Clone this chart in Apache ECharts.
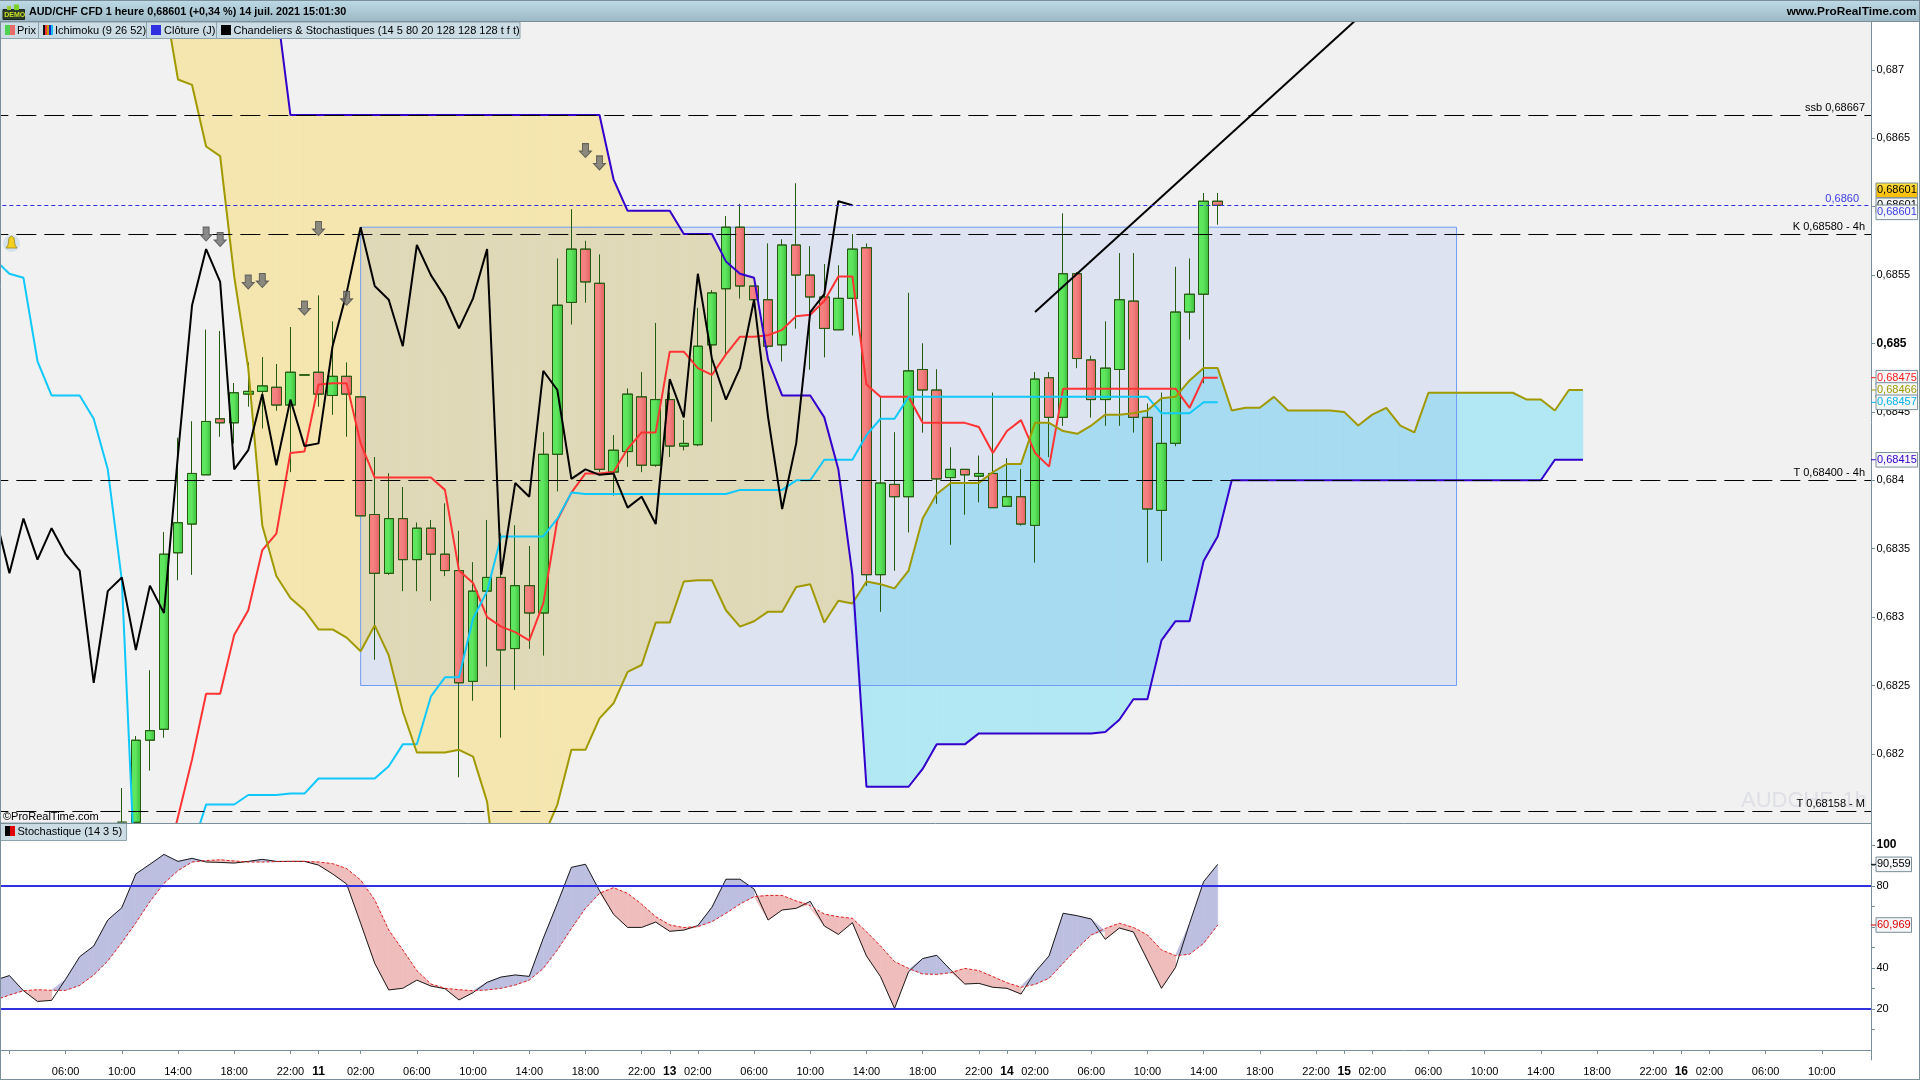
<!DOCTYPE html>
<html><head><meta charset="utf-8">
<style>html,body{margin:0;padding:0;background:#fff}#c{width:1920px;height:1080px}</style>
<script src="https://cdn.jsdelivr.net/npm/echarts@6/dist/echarts.min.js"></script>
</head><body><div id="c"></div>
<script>
const tickIndex=[1,5,9,13,17,21,23,26,30,34,38,42,46,48,50,54,58,62,66,70,72,74,78,82,86,90,94,96,98,102,106,110,114,118,120,122,126,130];
const tickText=['02:00','06:00','10:00','14:00','18:00','22:00','11','02:00','06:00','10:00','14:00','18:00','22:00','13','02:00','06:00','10:00','14:00','18:00','22:00','14','02:00','06:00','10:00','14:00','18:00','22:00','15','02:00','06:00','10:00','14:00','18:00','22:00','16','02:00','06:00','10:00'];
const barCount=134;
const priceTicks=[0.682,0.6825,0.683,0.6835,0.684,0.6845,0.685,0.6855,0.686,0.6865,0.687];
const priceLabels=[0.682,0.6825,0.683,0.6835,0.684,0.6845,0.685,0.6855,0.6865,0.687];
const stochTicks=[10,20,30,40,50,60,70,80,90,100];
const stochLabels=[20,40,60,80,100];
const opens=[null,null,null,null,null,null,null,null,null,0.68150,0.68150,0.68210,0.68218,0.68347,0.68368,0.68404,0.68445,0.68442,0.68463,0.68465,0.68468,0.68455,0.68477,0.68479,0.68462,0.68476,0.68461,0.68375,0.68332,0.68372,0.68342,0.68365,0.68346,0.68334,0.68253,0.68319,0.68329,0.68277,0.68323,0.68303,0.68419,0.68530,0.68569,0.68544,0.68406,0.68421,0.68461,0.68411,0.68459,0.68425,0.68426,0.68499,0.68540,0.68585,0.68542,0.68532,0.68499,0.68572,0.68550,0.68534,0.68510,0.68533,0.68570,0.68331,0.68397,0.68388,0.68481,0.68466,0.68402,0.68408,0.68403,0.68405,0.68381,0.68388,0.68367,0.68475,0.68446,0.68551,0.68488,0.68459,0.68481,0.68531,0.68446,0.68378,0.68427,0.68523,0.68536,0.68604];
const closes=[null,null,null,null,null,null,null,null,null,0.68150,0.68210,0.68217,0.68346,0.68369,0.68405,0.68443,0.68442,0.68464,0.68465,0.68469,0.68455,0.68479,0.68477,0.68463,0.68476,0.68463,0.68374,0.68332,0.68372,0.68342,0.68365,0.68346,0.68334,0.68252,0.68319,0.68329,0.68276,0.68323,0.68303,0.68419,0.68528,0.68569,0.68545,0.68408,0.68422,0.68463,0.68411,0.68459,0.68425,0.68427,0.68498,0.68537,0.68585,0.68542,0.68532,0.68498,0.68572,0.68550,0.68534,0.68511,0.68533,0.68569,0.68331,0.68398,0.68388,0.68480,0.68466,0.68401,0.68408,0.68404,0.68405,0.68380,0.68388,0.68368,0.68474,0.68446,0.68551,0.68489,0.68459,0.68482,0.68532,0.68446,0.68379,0.68427,0.68523,0.68536,0.68604,0.68601];
const lows=[null,null,null,null,null,null,null,null,null,0.68150,0.68150,0.68188,0.68212,0.68327,0.68331,0.68404,0.68432,0.68427,0.68454,0.68438,0.68451,0.68406,0.68477,0.68454,0.68448,0.68432,0.68374,0.68269,0.68331,0.68319,0.68319,0.68312,0.68330,0.68183,0.68239,0.68264,0.68212,0.68247,0.68277,0.68272,0.68392,0.68514,0.68530,0.68406,0.68389,0.68410,0.68406,0.68410,0.68417,0.68422,0.68425,0.68443,0.68492,0.68533,0.68527,0.68497,0.68487,0.68511,0.68481,0.68490,0.68510,0.68506,0.68323,0.68304,0.68334,0.68362,0.68435,0.68383,0.68353,0.68375,0.68384,0.68380,0.68381,0.68367,0.68340,0.68417,0.68440,0.68482,0.68446,0.68440,0.68440,0.68435,0.68340,0.68341,0.68425,0.68503,0.68471,0.68587];
const highs=[null,null,null,null,null,null,null,null,null,0.68175,0.68213,0.68261,0.68362,0.68431,0.68443,0.68510,0.68509,0.68471,0.68486,0.68490,0.68485,0.68512,0.68477,0.68535,0.68516,0.68486,0.68461,0.68417,0.68405,0.68395,0.68369,0.68371,0.68383,0.68363,0.68340,0.68371,0.68361,0.68367,0.68352,0.68435,0.68562,0.68598,0.68575,0.68565,0.68433,0.68467,0.68479,0.68515,0.68464,0.68444,0.68526,0.68539,0.68593,0.68602,0.68542,0.68573,0.68576,0.68617,0.68571,0.68558,0.68557,0.68580,0.68573,0.68461,0.68435,0.68537,0.68500,0.68481,0.68424,0.68408,0.68418,0.68464,0.68416,0.68408,0.68479,0.68479,0.68595,0.68552,0.68491,0.68516,0.68566,0.68566,0.68456,0.68464,0.68556,0.68562,0.68610,0.68610];
const tenkan=[null,null,null,null,null,null,null,null,null,null,null,null,0.68113,0.68154,0.68196,0.68244,0.68244,0.68287,0.68305,0.68349,0.68361,0.68420,0.68421,0.68470,0.68471,0.68471,0.68427,0.68402,0.68402,0.68402,0.68402,0.68402,0.68393,0.68334,0.68325,0.68300,0.68293,0.68289,0.68283,0.68310,0.68371,0.68391,0.68405,0.68405,0.68406,0.68423,0.68435,0.68435,0.68494,0.68494,0.68482,0.68477,0.68492,0.68505,0.68505,0.68506,0.68510,0.68520,0.68521,0.68531,0.68549,0.68549,0.68470,0.68461,0.68461,0.68461,0.68442,0.68442,0.68442,0.68442,0.68439,0.68420,0.68436,0.68444,0.68420,0.68410,0.68467,0.68467,0.68467,0.68467,0.68467,0.68467,0.68467,0.68467,0.68467,0.68453,0.68475,0.68475];
const kijun=[0.68561,0.68551,0.68548,0.68487,0.68462,0.68462,0.68462,0.68445,0.68408,0.68327,0.68097,0.68097,0.68097,0.68097,0.68131,0.68163,0.68163,0.68163,0.68170,0.68170,0.68170,0.68171,0.68171,0.68182,0.68182,0.68182,0.68182,0.68182,0.68191,0.68207,0.68207,0.68242,0.68256,0.68256,0.68299,0.68319,0.68359,0.68359,0.68359,0.68359,0.68372,0.68391,0.68390,0.68390,0.68390,0.68390,0.68390,0.68390,0.68390,0.68390,0.68390,0.68390,0.68390,0.68393,0.68393,0.68393,0.68393,0.68400,0.68400,0.68415,0.68415,0.68415,0.68433,0.68445,0.68445,0.68461,0.68461,0.68461,0.68461,0.68461,0.68461,0.68461,0.68461,0.68461,0.68461,0.68461,0.68461,0.68461,0.68461,0.68461,0.68461,0.68461,0.68461,0.68449,0.68449,0.68449,0.68457,0.68457];
const spanA=[null,null,null,null,null,null,null,null,null,null,null,null,0.68753,0.68693,0.68689,0.68644,0.68637,0.68549,0.68482,0.68367,0.68330,0.68314,0.68305,0.68291,0.68291,0.68285,0.68275,0.68294,0.68272,0.68231,0.68201,0.68201,0.68201,0.68203,0.68198,0.68165,0.68079,0.68079,0.68079,0.68139,0.68163,0.68203,0.68203,0.68226,0.68237,0.68260,0.68265,0.68296,0.68296,0.68326,0.68327,0.68327,0.68305,0.68293,0.68297,0.68304,0.68304,0.68322,0.68324,0.68296,0.68312,0.68310,0.68326,0.68324,0.68321,0.68334,0.68372,0.68390,0.68398,0.68398,0.68398,0.68406,0.68412,0.68412,0.68442,0.68442,0.68436,0.68434,0.68440,0.68448,0.68448,0.68449,0.68451,0.68460,0.68461,0.68473,0.68482,0.68482,0.68451,0.68453,0.68453,0.68461,0.68451,0.68451,0.68451,0.68451,0.68450,0.68440,0.68448,0.68453,0.68440,0.68435,0.68464,0.68464,0.68464,0.68464,0.68464,0.68464,0.68464,0.68459,0.68459,0.68451,0.68466,0.68466];
const spanB=[null,null,null,null,null,null,null,null,null,null,null,null,0.68780,0.68780,0.68780,0.68780,0.68780,0.68780,0.68780,0.68780,0.68748,0.68667,0.68667,0.68667,0.68667,0.68667,0.68667,0.68667,0.68667,0.68667,0.68667,0.68667,0.68667,0.68667,0.68667,0.68667,0.68667,0.68667,0.68667,0.68667,0.68667,0.68667,0.68667,0.68667,0.68620,0.68597,0.68597,0.68597,0.68597,0.68580,0.68580,0.68580,0.68560,0.68551,0.68548,0.68488,0.68462,0.68462,0.68462,0.68446,0.68408,0.68331,0.68176,0.68176,0.68176,0.68176,0.68189,0.68207,0.68207,0.68207,0.68215,0.68215,0.68215,0.68215,0.68215,0.68215,0.68215,0.68215,0.68215,0.68216,0.68225,0.68240,0.68240,0.68283,0.68297,0.68297,0.68341,0.68359,0.68400,0.68400,0.68400,0.68400,0.68400,0.68400,0.68400,0.68400,0.68400,0.68400,0.68400,0.68400,0.68400,0.68400,0.68400,0.68400,0.68400,0.68400,0.68400,0.68400,0.68400,0.68400,0.68400,0.68415,0.68415,0.68415];
const chikou=[0.68374,0.68332,0.68372,0.68342,0.68365,0.68346,0.68334,0.68252,0.68319,0.68329,0.68276,0.68323,0.68303,0.68419,0.68528,0.68569,0.68545,0.68408,0.68422,0.68463,0.68411,0.68459,0.68425,0.68427,0.68498,0.68537,0.68585,0.68542,0.68532,0.68498,0.68572,0.68550,0.68534,0.68511,0.68533,0.68569,0.68331,0.68398,0.68388,0.68480,0.68466,0.68401,0.68408,0.68404,0.68405,0.68380,0.68388,0.68368,0.68474,0.68446,0.68551,0.68489,0.68459,0.68482,0.68532,0.68446,0.68379,0.68427,0.68523,0.68536,0.68604,0.68601];
const stochK=[34.1,36.3,28.9,23.7,24.2,34.5,45.5,50.7,63.4,69.4,85.9,90.6,95.4,92,93.5,91.7,91.5,91.2,92,93,92,92,92,90.2,85.9,81,61.8,42.3,29.3,30.1,34.1,31.2,29.9,24.4,28,33,35.6,36.6,35.9,54.5,71.5,89.1,90.6,77.7,66.2,59.8,59.8,62.4,57.9,58.5,60.7,69.6,83.3,83.3,78.5,63.4,68.3,69.1,72.5,60.5,56.4,62.1,45.9,35.8,20.3,38.2,44.6,46.2,39,32.2,32.5,30.6,30.1,27.3,38,45.9,66.7,65.5,63.9,54,59.5,57.6,43.9,30.1,40.3,61.8,82.1,90.56];
const stochD=[24.4,26.8,28.9,29.4,29.1,29.1,31.5,36.6,43.4,52.4,62.1,72.4,81.3,87.5,91.7,92.4,92.8,92.2,91.7,91.7,91.9,92,92,91.7,90.9,88.5,82.9,73.2,58.5,48.8,38.7,32.2,30.1,29.4,28.9,29.3,30.1,31.7,34.1,39.8,48.8,59.3,69.1,76.4,79.2,76.4,71.1,65,61,59.7,60.2,62.6,66.7,71.2,74.8,75.4,75.4,72.7,70.4,66.3,65,64.2,57.7,50.7,43.1,39.8,37.1,36.9,37.7,39.8,38.7,35.8,32.8,30.6,32,35,42.3,49.6,56.1,59.3,61.8,59.8,56.1,48.8,46,46.7,52,60.97];
const arrowBars=[15,16,18,19,22,23,25,42,43];
const arrowPrices=[0.68580,0.68576,0.68545,0.68546,0.68526,0.68584,0.68533,0.68641,0.68632];
const levelValues=[0.68667,0.68580,0.68400,0.68158];
const levelNames=['ssb 0,68667','K 0,68580 - 4h','T 0,68400 - 4h','T 0,68158 - M'];
const lastPrice=0.68601, lastPriceName='0,6860';
const trendBars=[74,97], trendPrices=[0.68523,0.68738];
const boxBars=[26,104], boxPrices=[0.68585,0.6825];
const stochLevels=[80,20];

const FONT='"Liberation Sans",Arial,sans-serif';
const AXC='#7a8f99';
const categories=[];for(let i=0;i<barCount;i++){const k=tickIndex.indexOf(i);categories.push(k<0?'':tickText[k]);}
const candleData=opens.map((o,i)=>o===null?'-':[o,closes[i],lows[i],highs[i]]);
function hgrad(a,b){return {type:'linear',x:0,y:0,x2:1,y2:0,colorStops:[{offset:0,color:a},{offset:.45,color:a},{offset:1,color:b}]};}
function bandSegs(a,b){const s=[];for(let i=0;i<a.length-1;i++){if(a[i]==null||a[i+1]==null||b[i]==null||b[i+1]==null)continue;s.push({i,a0:a[i],b0:b[i],a1:a[i+1],b1:b[i+1]});}return s;}
function bandSeries(segs,xi,yi,upColor,dnColor,z){
  return {type:'custom',xAxisIndex:xi,yAxisIndex:yi,clip:true,silent:true,z,animation:false,
    encode:{x:0,y:1},data:segs.map(s=>[s.i,s.a0]),
    renderItem(p,api){
      const s=segs[p.dataIndex];const out=[];
      const poly=(pts,c)=>out.push({type:'polygon',shape:{points:pts.map(q=>api.coord(q))},style:{fill:c,stroke:c,lineWidth:.6}});
      const d0=s.a0-s.b0,d1=s.a1-s.b1;
      if(d0*d1<0){const t=d0/(d0-d1);const xc=s.i+t,yc=s.a0+(s.a1-s.a0)*t;
        poly([[s.i,s.a0],[xc,yc],[s.i,s.b0]],d0>0?upColor:dnColor);
        poly([[xc,yc],[s.i+1,s.a1],[s.i+1,s.b1]],d1>0?upColor:dnColor);
      }else poly([[s.i,s.a0],[s.i+1,s.a1],[s.i+1,s.b1],[s.i,s.b0]],(d0+d1)>0?upColor:dnColor);
      return {type:'group',children:out};
    }};
}
function lineS(name,data,color,w,z,extra){return Object.assign({name,type:'line',data,xAxisIndex:0,yAxisIndex:0,symbol:'none',showSymbol:false,clip:true,z,animation:false,silent:true,lineStyle:{color,width:w},connectNulls:false},extra||{});}

const chart=echarts.init(document.getElementById('c'),null,{renderer:'canvas'});
const levelLines=levelValues.map((v,k)=>({yAxis:v,lineStyle:{color:'#000',width:1,type:[20,8]},
  label:{show:true,position:'insideEndTop',formatter:levelNames[k],color:'#000',fontFamily:FONT,fontSize:11,distance:[6,2]}}));
levelLines.push({yAxis:lastPrice,lineStyle:{color:'#3030e0',width:1,type:[4,3]},
  label:{show:true,position:'insideEndTop',formatter:lastPriceName,color:'#3a3ae8',fontFamily:FONT,fontSize:11,distance:[12,1]}});

chart.setOption({
 animation:false,backgroundColor:'#fff',
 grid:[{left:-11.66,top:22,width:1882.66,height:801,show:true,backgroundColor:'#f1f1f1',borderWidth:0,outerBoundsMode:'none'},
       {left:-11.66,top:823,width:1882.66,height:237,show:true,backgroundColor:'#fff',borderWidth:0,outerBoundsMode:'none'}],
 xAxis:[{type:'category',gridIndex:0,data:categories,boundaryGap:true,axisLine:{show:false},axisTick:{show:false},axisLabel:{show:false},splitLine:{show:false}},
        {type:'category',gridIndex:1,data:categories,boundaryGap:true,
         axisLine:{show:true,lineStyle:{color:AXC,width:1}},
         axisTick:{show:true,length:4,alignWithLabel:true,interval:(i,v)=>v!=='',lineStyle:{color:AXC}},
         axisLabel:{show:true,margin:6,interval:(i,v)=>v!==''&&i!==1,color:'#000',fontFamily:FONT,fontSize:11,
           formatter:v=>/^\d\d$/.test(v)?'{b|'+v+'}':v,rich:{b:{fontWeight:'bold',fontSize:12,fontFamily:FONT,color:'#000'}}},
         splitLine:{show:false}}],
 yAxis:[{type:'value',gridIndex:0,position:'right',min:0.681495,max:0.68735,
         axisLine:{show:true,lineStyle:{color:AXC,width:1}},splitLine:{show:false},
         axisTick:{show:true,length:4,customValues:priceTicks,lineStyle:{color:AXC}},
         axisLabel:{show:true,margin:5.5,align:'left',customValues:priceLabels,color:'#000',fontFamily:FONT,fontSize:11,
           formatter:v=>{const t=String(v).replace('.',',');return v===0.685?'{b|'+t+'}':t;},rich:{b:{fontWeight:'bold',fontSize:12,fontFamily:FONT,color:'#000'}}}},
        {type:'value',gridIndex:1,position:'right',min:-4.88,max:110.73,
         axisLine:{show:true,lineStyle:{color:AXC,width:1}},splitLine:{show:false},
         axisTick:{show:true,length:4,customValues:stochTicks,lineStyle:{color:AXC}},
         axisLabel:{show:true,margin:5.5,align:'left',customValues:stochLabels,color:'#000',fontFamily:FONT,fontSize:11,
           formatter:v=>v===100?'{b|100}':String(v),rich:{b:{fontWeight:'bold',fontSize:12,fontFamily:FONT,color:'#000'}}}}],
 series:[
  bandSeries(bandSegs(spanA,spanB),0,0,'#b2e8f4','#f5e6b0',0),
  lineS('Kumo box',[],'#6699ff',1,1,{markArea:{silent:true,z:1,itemStyle:{color:'rgba(108,148,234,0.15)',borderColor:'#6f9cf5',borderWidth:1},
     data:[[{coord:[boxBars[0],boxPrices[0]]},{coord:[boxBars[1],boxPrices[1]]}]]}}),
  {name:'Prix',type:'candlestick',xAxisIndex:0,yAxisIndex:0,data:candleData,barWidth:10,clip:true,z:2,silent:true,animation:false,
   itemStyle:{color:hgrad('#5fe65f','#3dbe3d'),color0:hgrad('#f48080','#e06060'),borderColor:'#265c12',borderColor0:'#265c12',borderColorDoji:'#265c12',borderWidth:1}},
  lineS('Tenkan',tenkan,'#ff3333',2,3),
  lineS('Kijun',kijun,'#10c8fa',2,3),
  lineS('Span A',spanA,'#a09a00',2,3),
  lineS('Span B',spanB,'#3300cc',2,3),
  lineS('Chikou',chikou,'#000000',2,4,{markLine:{silent:true,symbol:'none',z:5,animation:false,precision:5,data:levelLines}}),
  lineS('Tendance',[[trendBars[0],trendPrices[0]],[trendBars[1],trendPrices[1]]],'#000000',2,4),
  {name:'Signal',type:'scatter',xAxisIndex:0,yAxisIndex:0,z:6,silent:true,animation:false,
   symbol:'path://M3,0 H9 V7 H12 L6,13 L0,7 H3 Z',symbolSize:[12,14],
   itemStyle:{color:'#707070',borderColor:'#4a4a4a',borderWidth:1},data:arrowBars.map((b,k)=>[b,arrowPrices[k]])},
  bandSeries(bandSegs(stochK,stochD),1,1,'#bdbfe0','#f0bdbd',1),
  {name:'%K',type:'line',xAxisIndex:1,yAxisIndex:1,data:stochK,symbol:'none',z:3,silent:true,animation:false,lineStyle:{color:'#1a1a1a',width:1},
   markLine:{silent:true,symbol:'none',z:5,animation:false,label:{show:false},lineStyle:{color:'#3030e0',width:2,type:'solid'},data:stochLevels.map(v=>({yAxis:v}))}},
  {name:'%D',type:'line',xAxisIndex:1,yAxisIndex:1,data:stochD,symbol:'none',z:3,silent:true,animation:false,lineStyle:{color:'#e02020',width:1,type:[3,2]}}
 ]
});

const T=(text,x,y,o)=>({type:'text',z:200,silent:true,style:Object.assign({text,x,y,font:'11px '+FONT,fill:'#000',textVerticalAlign:'middle'},o||{})});
const R=(x,y,w,h,fill,stroke)=>({type:'rect',z:150,silent:true,shape:{x,y,width:w,height:h},style:{fill,stroke:stroke||null,lineWidth:stroke?1:0}});
const L=(x1,y1,x2,y2,c)=>({type:'line',z:151,silent:true,shape:{x1,y1,x2,y2},style:{stroke:c,lineWidth:1}});
const g=[];
const wm=T('AUDCHF, 1h',1741,801,{font:'22px '+FONT,fill:'#dfe0e6'});wm.z=1;g.push(wm);
g.push(T('©ProRealTime.com',3,817));
g.push({type:'rect',z:150,silent:true,shape:{x:0,y:0,width:1920,height:21.5},style:{fill:{type:'linear',x:0,y:0,x2:0,y2:1,colorStops:[{offset:0,color:'#bddbe7'},{offset:1,color:'#9cb8c4'}]}}});
g.push(L(0,21.5,1920,21.5,AXC),L(0,.5,1920,.5,AXC));
g.push(T('AUD/CHF CFD 1 heure 0,68601 (+0,34 %) 14 juil. 2021 15:01:30',29,12,{font:'bold 10.8px '+FONT}));
g.push(T('www.ProRealTime.com',1916.5,12,{font:'bold 11.8px '+FONT,textAlign:'right'}));
g.push(R(3,9.5,21.5,10,'#2c3a2c','#1a261a'),R(7,6,4,4,'#9acb34'),R(14,4.5,5,5.5,'#7bd02a'));
g.push(T('DEMO',4.3,15,{font:'bold 7px '+FONT,fill:'#c8e020'}));
[[.5,38.5],[38.5,108],[146.5,70],[216.5,303.5]].forEach(t=>g.push(R(t[0],22,t[1],16.5,'#cbdce5','#8da3ad')));
g.push(R(5,25,5,10,'#4fd24f'),R(10,25,5,10,'#e86a6a'));
['#111','#ff3333','#c09a00','#2020cc','#10c0f0'].forEach((c,k)=>g.push(R(43+k*2,25,2,10,c)));
g.push(R(151,25,10,10,'#3030e0'),R(221,25,10,10,'#000'));
g.push(T('Prix',17,30.5),T('Ichimoku (9 26 52)',55,30.5),T('Clôture (J)',164,30.5),T('Chandeliers & Stochastiques (14 5 80 20 128 128 128 t f t)',233.5,30.5));
g.push(R(.5,823,126,17.5,'#cbdce5','#8da3ad'),R(5,826,5,10,'#000'),R(10,826,5,10,'#e00000'));
g.push(T('Stochastique (14 3 5)',17.5,832));
g.push(L(.5,22,.5,1080,AXC),L(0,823.5,1871,823.5,AXC),L(0,1079.5,1920,1079.5,AXC),L(1919.5,0,1919.5,1080,AXC));
g.push({type:'circle',z:151,silent:true,shape:{cx:11.5,cy:243.5,r:8.5},style:{fill:'#d5e2ea'}});
g.push({type:'polygon',z:152,silent:true,shape:{points:[[11.5,236],[14,238],[15,245],[17,248],[6,248],[8,245],[9,238]]},style:{fill:'#f4d020',stroke:'#8a7a10',lineWidth:.7}});
const priceTags=[['0,68601',0.68601,0,'#000','#f4f6f8'],['0,68601',0.68601,7,'#3a3ae8','#f4f6f8'],['0,68601',0.68601,-15,'#000',{type:'linear',x:0,y:0,x2:0,y2:1,colorStops:[{offset:0,color:'#ffe040'},{offset:1,color:'#f8b800'}]}],
 ['0,68475',0.68475,0,'#ff2020','#f4f6f8'],['0,68466',0.68466,0,'#a09a00','#f4f6f8'],['0,68457',0.68457,0,'#00b4e8','#f4f6f8'],['0,68415',0.68415,0,'#3300cc','#f4f6f8']];
let tagZ=150;
priceTags.forEach(t=>{const y=chart.convertToPixel({yAxisIndex:0},t[1])+t[2];
  tagZ+=2;
  const r=R(1876,y-7.3,41.6,14.6,t[4],AXC);r.z=tagZ;g.push(r);
  if(t[2]===0&&t[3]!=='#000')g.push(L(1871,y,1876,y,t[3]));
  const tx=T(t[0],1877,y,{fill:t[3]});tx.z=tagZ+1;g.push(tx);});
const stochTags=[['90,559',90.559,'#000'],['60,969',60.969,'#e00000']];
stochTags.forEach(t=>{const y=chart.convertToPixel({yAxisIndex:1},t[1]);
  g.push(R(1876,y-7.3,35.5,14.6,'#f4f6f8',AXC));
  g.push(L(1871,y,1876,y,t[2]));
  g.push(T(t[0],1877,y,{fill:t[2]}));});
chart.setOption({graphic:g});
</script></body></html>
